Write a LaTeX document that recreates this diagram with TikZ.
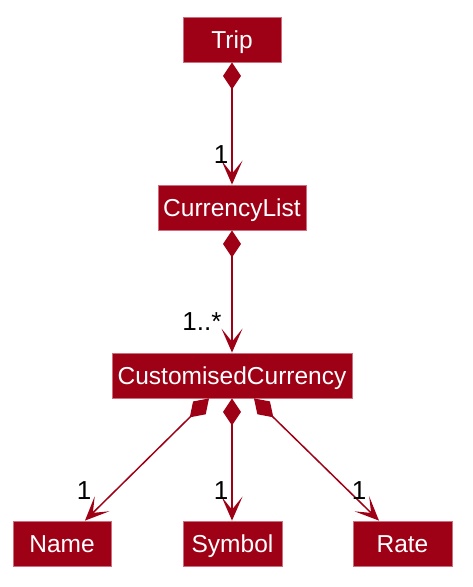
\documentclass[tikz,border=0pt]{standalone}
\usepackage{fontspec}
\setmainfont{Liberation Sans}
\usetikzlibrary{arrows.meta}
\definecolor{umlred}{RGB}{158,0,22}
\definecolor{umlborder}{RGB}{205,110,125}
\begin{document}
\begin{tikzpicture}[x=1pt,y=-1pt,
 cls/.style={fill=umlred, draw=umlborder, line width=0.8pt, text=white, inner sep=0pt,
   minimum height=45pt, text height=17.5pt, text depth=0pt,
   font=\fontsize{24.5}{29}\selectfont},
 mult/.style={text=black, inner sep=0pt, text height=18.6pt, text depth=0pt,
   font=\fontsize{26}{30}\selectfont},
 comp/.style={draw=umlred, line width=1.5pt,
   {Diamond[length=27pt,width=18pt,line width=0pt]}-{Stealth[length=24pt,width=21pt,inset=13pt,line width=0pt]}}]
\useasboundingbox (0,0) rectangle (472,587);
\node[cls, minimum width=98pt]  (trip)   at (232,39.5)  {Trip};
\node[cls, minimum width=148pt] (clist)  at (232,207.5) {CurrencyList};
\node[cls, minimum width=240pt] (ccur)   at (232,375.5) {CustomisedCurrency};
\node[cls, minimum width=98pt]  (name)   at (62,543.5)  {Name};
\node[cls, minimum width=99pt]  (symbol) at (232.5,543.5) {Symbol};
\node[cls, minimum width=99pt]  (rate)   at (402.5,543.5) {Rate};

\draw[comp] (trip.south) -- (clist.north);
\draw[comp] (clist.south) -- (ccur.north);
\draw[comp] ([xshift=-23pt]ccur.south) -- ([xshift=23pt]name.north);
\draw[comp] (ccur.south) -- ([xshift=-0.5pt]symbol.north);
\draw[comp] ([xshift=22pt]ccur.south) -- ([xshift=-23.5pt]rate.north);

\node[mult] (m1) at (221,154) {1};
\node[mult] (m2) at (202,321) {1..*};
\node[mult] (m3) at (84,490) {1};
\node[mult] (m4) at (221,490) {1};
\node[mult] (m5) at (359,490) {1};
\end{tikzpicture}
\end{document}
